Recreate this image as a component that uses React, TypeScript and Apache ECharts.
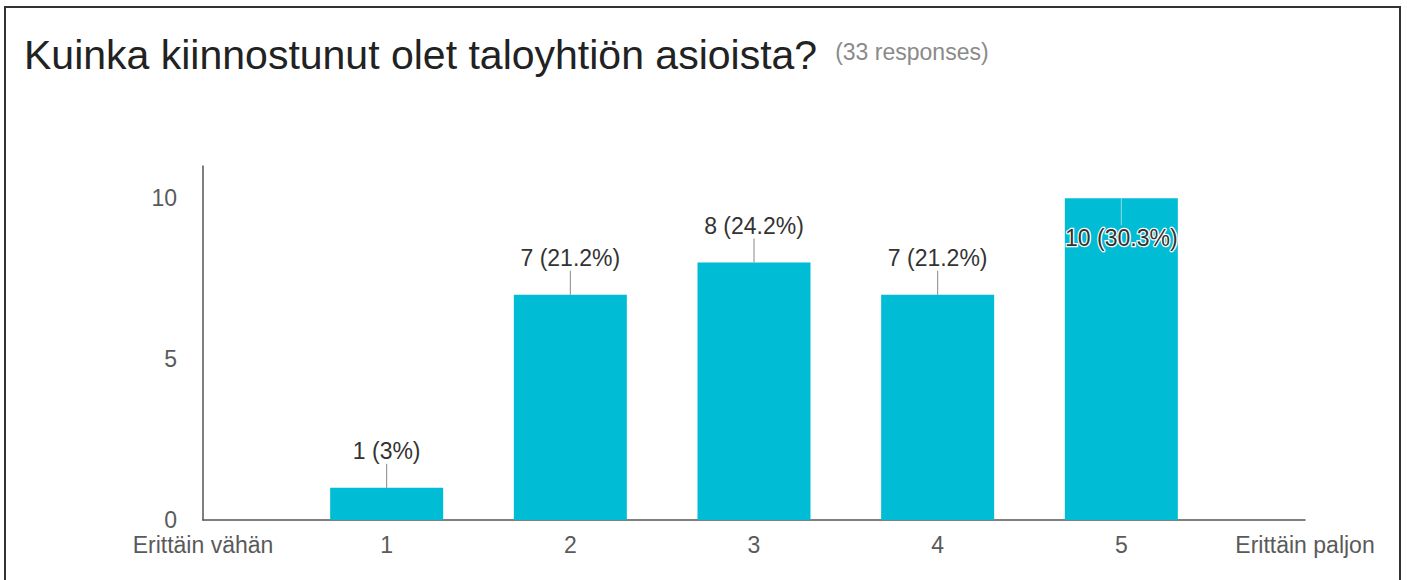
import React, { useEffect, useRef } from "react";
import * as echarts from "echarts";

const TITLE = "Kuinka kiinnostunut olet taloyhtiön asioista?";
const RESPONSES_NOTE = "(33 responses)";
const LOW_END_LABEL = "Erittäin vähän";
const HIGH_END_LABEL = "Erittäin paljon";
const scaleLabels = ["1", "2", "3", "4", "5"];
const counts = [1, 7, 8, 7, 10];
const yTicks = [0, 5, 10];

const BAR_COLOR = "#00bcd4";
const FONT = "'Liberation Sans', Arial, Helvetica, sans-serif";

export default function App() {
  const ref = useRef<HTMLDivElement>(null);

  useEffect(() => {
    if (!ref.current) return;
    const chart = echarts.init(ref.current, undefined, { renderer: "svg" });
    const categories = [LOW_END_LABEL, ...scaleLabels, HIGH_END_LABEL];
    const total = counts.reduce((a, b) => a + b, 0);
    const barData: (number | string)[] = ["-", ...counts, "-"];
    const labelData = counts.map((v, i) => [i + 1, v]);
    const fmtPct = (v: number) => {
      const p = Math.round((v / total) * 1000) / 10;
      return `${v} (${p}%)`;
    };
    const gridTop = 166;

    chart.setOption({
      animation: false,
      backgroundColor: "#ffffff",
      title: {
        left: 19,
        top: 29,
        text: `{t|${TITLE}}{s|${RESPONSES_NOTE}}`,
        textStyle: {
          fontWeight: "normal",
          rich: {
            t: { fontFamily: FONT, fontSize: 41, fontWeight: "normal", color: "#222222" },
            s: {
              fontFamily: FONT,
              fontSize: 23,
              fontWeight: "normal",
              color: "#8a8a8a",
              padding: [0, 0, 6, 18],
            },
          },
        },
      },
      graphic: [
        {
          type: "rect",
          shape: { x: 5, y: 7, width: 1395, height: 600 },
          style: { fill: "none", stroke: "#333333", lineWidth: 2 },
          silent: true,
        },
      ],
      grid: { left: 203, right: 102, top: gridTop, bottom: 60, containLabel: false },
      xAxis: {
        type: "category",
        data: categories,
        boundaryGap: false,
        axisLine: { show: true, lineStyle: { color: "#555555", width: 1.5 } },
        axisTick: { show: false },
        axisLabel: {
          interval: 0,
          margin: 13,
          fontFamily: FONT,
          fontSize: 23,
          color: "#5a5a5a",
        },
        splitLine: { show: false },
      },
      yAxis: {
        type: "value",
        min: 0,
        max: 11,
        interval: 5,
        axisLine: { show: true, lineStyle: { color: "#555555", width: 1.5 } },
        axisTick: { show: false },
        splitLine: { show: false },
        axisLabel: {
          margin: 26,
          fontFamily: FONT,
          fontSize: 23,
          color: "#5a5a5a",
          formatter: (v: number) => (yTicks.includes(v) ? String(v) : ""),
        },
      },
      series: [
        {
          type: "bar",
          data: barData,
          barWidth: 113,
          itemStyle: { color: BAR_COLOR },
          silent: true,
          z: 2,
        },
        {
          type: "custom",
          data: labelData,
          encode: { x: 0, y: 1 },
          silent: true,
          z: 10,
          clip: false,
          renderItem: (params: any, api: any) => {
            const idx = api.value(0);
            const val = api.value(1);
            const p = api.coord([idx, val]);
            const text = fmtPct(val);
            const outside = p[1] - 48 >= gridTop;
            if (outside) {
              return {
                type: "group",
                children: [
                  {
                    type: "line",
                    shape: { x1: p[0], y1: p[1], x2: p[0], y2: p[1] - 24 },
                    style: { stroke: "#888888", lineWidth: 1 },
                  },
                  {
                    type: "text",
                    x: p[0],
                    y: p[1] - 37,
                    style: {
                      text,
                      align: "center",
                      verticalAlign: "middle",
                      font: `23px ${FONT}`,
                      fill: "#333333",
                    },
                  },
                ],
              };
            }
            return {
              type: "group",
              children: [
                {
                  type: "line",
                  shape: { x1: p[0], y1: p[1], x2: p[0], y2: p[1] + 27 },
                  style: { stroke: "#8fdbe6", lineWidth: 1 },
                },
                {
                  type: "text",
                  x: p[0],
                  y: p[1] + 40,
                  style: {
                    text,
                    align: "center",
                    verticalAlign: "middle",
                    font: `23px ${FONT}`,
                    fill: "#333333",
                    stroke: "#ffffff",
                    lineWidth: 2.5,
                  },
                },
              ],
            };
          },
        },
      ],
    });

    return () => chart.dispose();
  }, []);

  return (
    <div
      ref={ref}
      style={{ position: "absolute", left: 0, top: 0, width: 1407, height: 580 }}
    />
  );
}
